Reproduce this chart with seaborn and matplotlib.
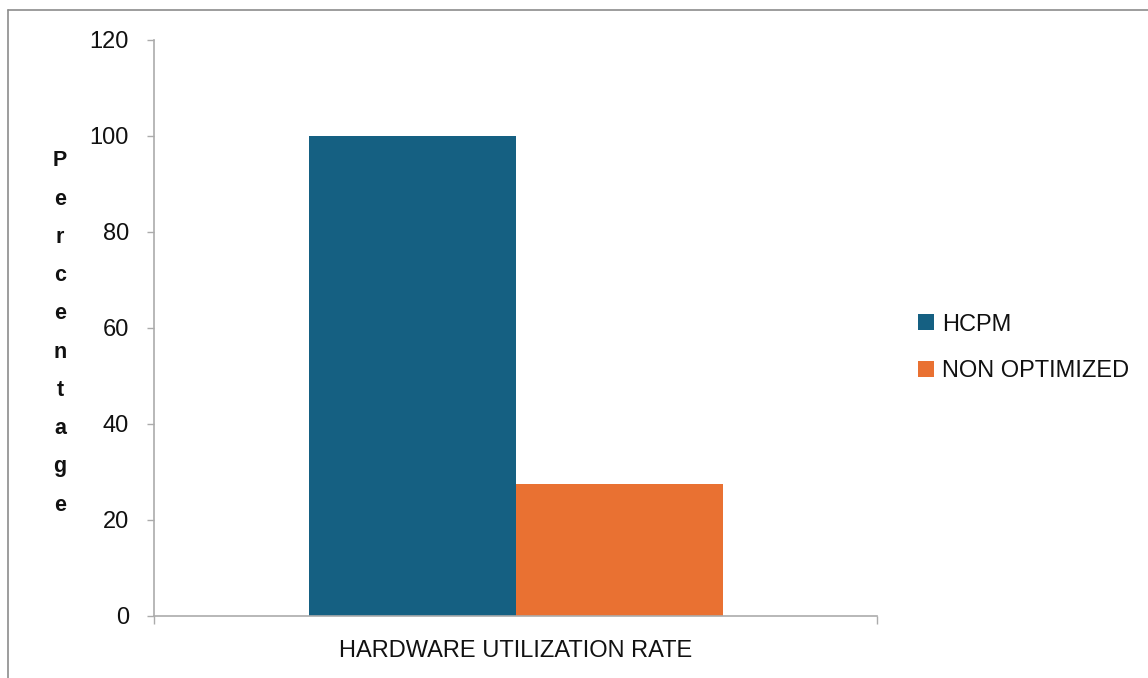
import matplotlib
matplotlib.use("Agg")
import matplotlib.pyplot as plt
from matplotlib.lines import Line2D
import pandas as pd
import seaborn as sns

categories = ["HARDWARE UTILIZATION RATE"]
series = ["HCPM", "NON OPTIMIZED"]
values = [100, 27.5]
colors = ["#156082", "#E97132"]
y_ticks = [0, 20, 40, 60, 80, 100, 120]
y_label = "Percentage"

sns.set_theme(style="white")
plt.rcParams["font.family"] = ["Liberation Sans", "DejaVu Sans"]

df = pd.DataFrame({
    "category": categories * len(series),
    "series": series,
    "value": values,
})

W, H = 1148, 678
fig = plt.figure(figsize=(W / 100, H / 100), dpi=100)
ax = fig.add_axes([154 / W, 1 - 616 / H, (877 - 154) / W, (616 - 40) / H])

sns.barplot(data=df, x="category", y="value", hue="series", palette=colors,
            width=414 / 723, ax=ax, legend=True, saturation=1, linewidth=0)

ax.set_ylim(0, 120)
ax.set_xlim(-0.5, 0.5)
ax.set_yticks(y_ticks)
ax.set_xlabel("")
ax.set_ylabel("")

for s in ["top", "right"]:
    ax.spines[s].set_visible(False)
for s in ["left", "bottom"]:
    ax.spines[s].set_color("#ababab")
    ax.spines[s].set_linewidth(1.2)

ax.tick_params(axis="y", which="major", length=5, width=1.0, color="#ababab",
               direction="out", pad=13, labelsize=17, labelcolor="#111111", left=True)
ax.set_xticks([-0.5, 0.5], minor=True)
ax.tick_params(axis="x", which="minor", length=6, width=1.0, color="#ababab",
               direction="out", bottom=True)
ax.tick_params(axis="x", which="major", length=0, pad=17, labelsize=17,
               labelcolor="#111111")

# Stacked, one-letter-per-line axis title
fig.text(60 / W, 1 - 333 / H, "\n".join(y_label), ha="center", va="center",
         fontsize=15.5, fontweight="bold", color="#111111", linespacing=2.08)

leg = ax.legend(loc="center left", bbox_to_anchor=(909 / W, 1 - 348 / H),
                bbox_transform=fig.transFigure, frameon=False, fontsize=17,
                handlelength=0.65, handleheight=0.65, handletextpad=0.35,
                labelspacing=1.05, borderaxespad=0)
for t in leg.get_texts():
    t.set_color("#111111")

# Outer chart-area border (left and top edges)
fig.add_artist(Line2D([8 / W, 8 / W], [0, 1 - 10 / H], transform=fig.transFigure,
                      color="#8c8c8c", linewidth=1.2))
fig.add_artist(Line2D([8 / W, 1], [1 - 10 / H, 1 - 10 / H], transform=fig.transFigure,
                      color="#8c8c8c", linewidth=1.2))

fig.savefig("out.png", dpi=100)
